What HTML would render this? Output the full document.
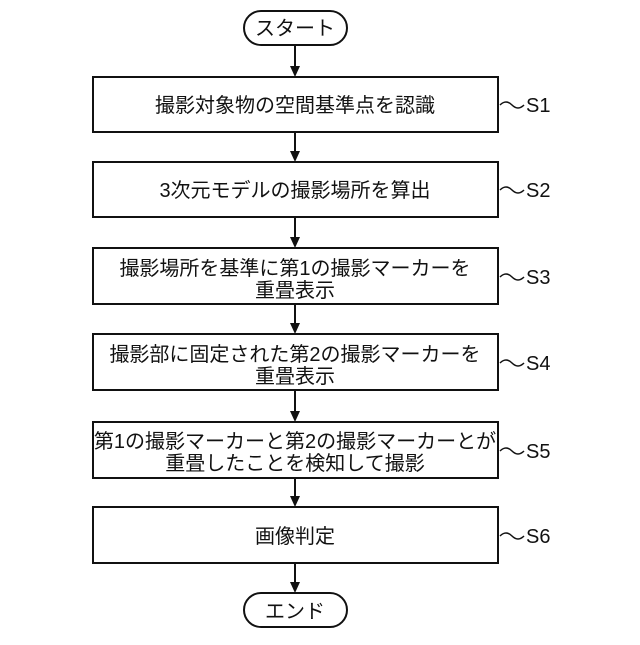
<!DOCTYPE html>
<html><head><meta charset="utf-8"><style>
body{margin:0;background:#fff;}
svg text{font-family:"Liberation Sans","Noto Sans CJK JP",sans-serif;font-size:20px;fill:#111;}
</style></head><body>
<svg width="640" height="640" viewBox="0 0 640 640" xmlns="http://www.w3.org/2000/svg">
<g stroke="#111" stroke-width="2" fill="none">
<rect x="244" y="11" width="103" height="34" rx="17"/>
<rect x="93" y="77" width="405" height="55"/>
<rect x="93" y="162" width="405" height="55"/>
<rect x="93" y="248" width="405" height="56"/>
<rect x="93" y="334" width="405" height="56"/>
<rect x="93" y="422" width="405" height="56"/>
<rect x="93" y="507" width="405" height="56"/>
<rect x="244" y="593" width="103" height="34" rx="17"/>
<line x1="295" y1="45" x2="295" y2="68"/>
<line x1="295" y1="132" x2="295" y2="153"/>
<line x1="295" y1="217" x2="295" y2="239"/>
<line x1="295" y1="304" x2="295" y2="325"/>
<line x1="295" y1="390" x2="295" y2="413"/>
<line x1="295" y1="478" x2="295" y2="498"/>
<line x1="295" y1="563" x2="295" y2="584"/>
</g>
<g fill="#111">
<path d="M290,66 L300,66 L295,77 Z"/>
<path d="M290,151 L300,151 L295,162 Z"/>
<path d="M290,237 L300,237 L295,248 Z"/>
<path d="M290,323 L300,323 L295,334 Z"/>
<path d="M290,411 L300,411 L295,422 Z"/>
<path d="M290,496 L300,496 L295,507 Z"/>
<path d="M290,582 L300,582 L295,593 Z"/>
</g>
<g stroke="#111" stroke-width="1.5" fill="none">
<path d="M500,105 q6,-6 12,0 t12,0"/>
<path d="M500,190 q6,-6 12,0 t12,0"/>
<path d="M500,277 q6,-6 12,0 t12,0"/>
<path d="M500,363 q6,-6 12,0 t12,0"/>
<path d="M500,451 q6,-6 12,0 t12,0"/>
<path d="M500,536 q6,-6 12,0 t12,0"/>
</g>
<g text-anchor="middle">
<text x="295" y="35">スタート</text>
<text x="295" y="112">撮影対象物の空間基準点を認識</text>
<text x="295" y="197">3次元モデルの撮影場所を算出</text>
<text x="295" y="275">撮影場所を基準に第1の撮影マーカーを</text>
<text x="295" y="297">重畳表示</text>
<text x="295" y="361">撮影部に固定された第2の撮影マーカーを</text>
<text x="295" y="383">重畳表示</text>
<text x="295" y="448">第1の撮影マーカーと第2の撮影マーカーとが</text>
<text x="295" y="470">重畳したことを検知して撮影</text>
<text x="295" y="543">画像判定</text>
<text x="295" y="618">エンド</text>
</g>
<g>
<text x="526" y="112">S1</text>
<text x="526" y="197">S2</text>
<text x="526" y="284">S3</text>
<text x="526" y="370">S4</text>
<text x="526" y="458">S5</text>
<text x="526" y="543">S6</text>
</g>
</svg>
</body></html>
